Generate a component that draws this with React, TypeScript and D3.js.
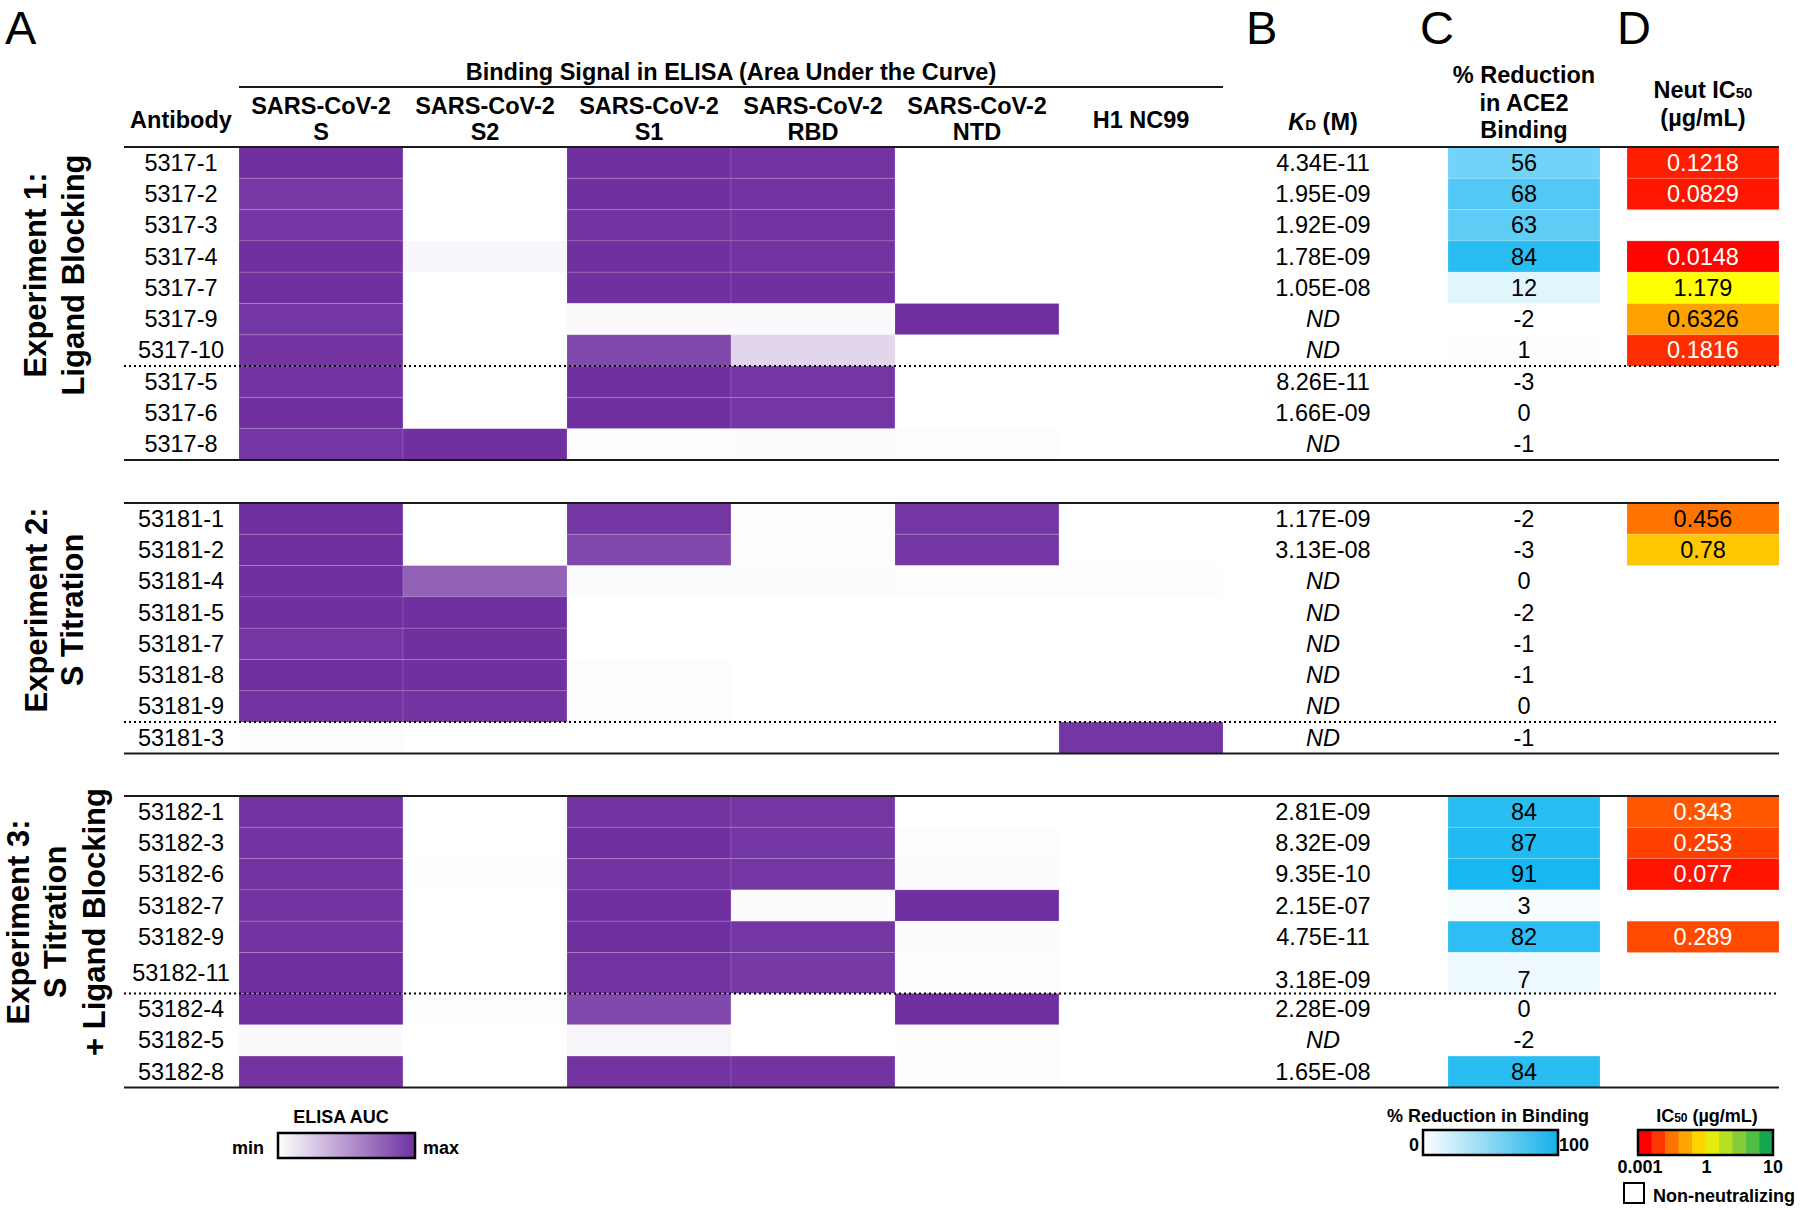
import * as d3 from "d3";

// ---- data ----
const heatColumns = [
  ["SARS-CoV-2", "S"],
  ["SARS-CoV-2", "S2"],
  ["SARS-CoV-2", "S1"],
  ["SARS-CoV-2", "RBD"],
  ["SARS-CoV-2", "NTD"],
  ["H1 NC99"],
];

const exp1Antibodies = ["5317-1", "5317-2", "5317-3", "5317-4", "5317-7", "5317-9", "5317-10", "5317-5", "5317-6", "5317-8"];
// ELISA AUC, scaled 0 (min) .. 1 (max), columns S, S2, S1, RBD, NTD, H1
const exp1Elisa = [
  [1.0, 0, 1.0, 0.98, 0, 0],
  [0.95, 0, 1.0, 0.98, 0, 0],
  [0.97, 0, 0.98, 0.98, 0, 0],
  [1.0, 0.04, 1.0, 0.98, 0, 0],
  [1.0, 0, 1.0, 1.0, 0, 0],
  [0.97, 0, 0.03, 0.03, 1.0, 0],
  [0.98, 0, 0.88, 0.2, 0, 0],
  [0.98, 0, 1.0, 0.97, 0, 0],
  [1.0, 0, 1.0, 0.97, 0, 0],
  [0.97, 1.0, 0.01, 0.02, 0.01, 0],
];
const exp1Kd = ["4.34E-11", "1.95E-09", "1.92E-09", "1.78E-09", "1.05E-08", "ND", "ND", "8.26E-11", "1.66E-09", "ND"];
const exp1Reduction = [56, 68, 63, 84, 12, -2, 1, -3, 0, -1];
const exp1Ic50 = [0.1218, 0.0829, null, 0.0148, 1.179, 0.6326, 0.1816, null, null, null];

const exp2Antibodies = ["53181-1", "53181-2", "53181-4", "53181-5", "53181-7", "53181-8", "53181-9", "53181-3"];
const exp2Elisa = [
  [1.0, 0, 0.97, 0.01, 0.97, 0],
  [1.0, 0, 0.88, 0.01, 0.97, 0],
  [1.0, 0.76, 0.02, 0.02, 0.01, 0.01],
  [1.0, 1.0, 0, 0, 0, 0],
  [0.97, 1.0, 0, 0, 0, 0],
  [1.0, 1.0, 0.01, 0, 0, 0],
  [0.98, 0.98, 0.01, 0, 0, 0],
  [0.01, 0, 0, 0, 0, 0.97],
];
const exp2Kd = ["1.17E-09", "3.13E-08", "ND", "ND", "ND", "ND", "ND", "ND"];
const exp2Reduction = [-2, -3, 0, -2, -1, -1, 0, -1];
const exp2Ic50 = [0.456, 0.78, null, null, null, null, null, null];

const exp3Antibodies = ["53182-1", "53182-3", "53182-6", "53182-7", "53182-9", "53182-11", "53182-4", "53182-5", "53182-8"];
const exp3Elisa = [
  [0.98, 0, 0.98, 0.97, 0, 0],
  [0.98, 0, 1.0, 0.97, 0.01, 0],
  [0.98, 0.01, 0.98, 0.97, 0.02, 0],
  [0.98, 0, 1.0, 0.02, 1.0, 0],
  [0.98, 0, 1.0, 0.97, 0.02, 0],
  [1.0, 0, 0.98, 0.95, 0.01, 0],
  [1.0, 0.01, 0.88, 0, 1.0, 0],
  [0.03, 0, 0.05, 0, 0.01, 0],
  [0.98, 0, 0.98, 0.98, 0.01, 0],
];
const exp3Kd = ["2.81E-09", "8.32E-09", "9.35E-10", "2.15E-07", "4.75E-11", "3.18E-09", "2.28E-09", "ND", "1.65E-08"];
const exp3Reduction = [84, 87, 91, 3, 82, 7, 0, -2, 84];
const exp3Ic50 = [0.343, 0.253, 0.077, null, 0.289, null, null, null, null];

const experiments = [
  { title: ["Experiment 1:", "Ligand Blocking"], antibodies: exp1Antibodies, elisa: exp1Elisa, kd: exp1Kd, reduction: exp1Reduction, ic50: exp1Ic50, splitAfter: 7 },
  { title: ["Experiment 2:", "S Titration"], antibodies: exp2Antibodies, elisa: exp2Elisa, kd: exp2Kd, reduction: exp2Reduction, ic50: exp2Ic50, splitAfter: 7 },
  { title: ["Experiment 3:", "S Titration", "+ Ligand Blocking"], antibodies: exp3Antibodies, elisa: exp3Elisa, kd: exp3Kd, reduction: exp3Reduction, ic50: exp3Ic50, splitAfter: 6 },
];

const ic50LegendColors = ["#ff0000", "#ff3800", "#ff7400", "#ffa400", "#ffd400", "#e4ec10", "#b6e024", "#86cc38", "#4fbf44", "#16a650"];
const ic50LegendTicks = ["0.001", "1", "10"];

// ---- layout ----
const W = 1800;
const H = 1210;
const FONT = "'Liberation Sans', Arial, Helvetica, sans-serif";
const tableLeft = 124;
const tableRight = 1779;
const labelX = 181;
const kdX = 1323;
const redX = [1448, 1600];
const icX = [1627, 1779];
const rowH = 31.3;
const tallRowH = 41;
const tallRows = ["53182-11"];
const blockTops = [147, 503, 796];
const titleCenterY = [275, 610, 922];
const titleBaselines = [[46, 84], [47, 83], [29, 66, 105]];

const heatX = d3.scaleBand<number>().domain(d3.range(heatColumns.length)).range([239, 1223]);
const elisaColor = d3.scaleLinear<string>().domain([0, 1]).range(["#ffffff", "#7030a0"]).clamp(true);
const reductionColor = d3.scaleLinear<string>().domain([0, 100]).range(["#ffffff", "#00b0f0"]).clamp(true);
const ic50Color = d3.scaleLinear<string>().domain([0, 1]).range(["#ff0000", "#ffff00"]).clamp(true);
const ic50Tick = d3.scalePoint<string>().domain(ic50LegendTicks).range([1640, 1773]);
const ic50Band = d3.scaleBand<number>().domain(d3.range(ic50LegendColors.length)).range([1638, 1773]);

const FS = 23.5;

function Block({ exp, top, idx }: any) {
  const heights = exp.antibodies.map((a: string) => (tallRows.includes(a) ? tallRowH : rowH));
  const ys = [top];
  heights.forEach((h: number, i: number) => ys.push(ys[i] + h));
  const bottom = ys[ys.length - 1];
  const splitY = ys[exp.splitAfter];
  return (
    <g>
      {exp.antibodies.map((ab: string, i: number) => {
        const y0 = ys[i];
        const h = heights[i];
        const tall = h > rowH;
        const midBase = y0 + h / 2 + 8;
        const valBase = tall ? y0 + h - 6 : midBase;
        const r = exp.reduction[i];
        const ic = exp.ic50[i];
        return (
          <g key={ab}>
            {exp.elisa[i].map((v: number, j: number) => (
              <rect key={j} x={heatX(j)} y={y0} width={heatX.bandwidth()} height={h}
                fill={elisaColor(v)} stroke="#ffffff" strokeOpacity={0.12} strokeWidth={1} />
            ))}
            <text x={labelX} y={midBase} textAnchor="middle" fontSize={FS}>{ab}</text>
            <text x={kdX} y={valBase} textAnchor="middle" fontSize={FS}
              fontStyle={exp.kd[i] === "ND" ? "italic" : "normal"}>{exp.kd[i]}</text>
            {r > 0 && (
              <rect x={redX[0]} y={y0} width={redX[1] - redX[0]} height={h}
                fill={reductionColor(r)} stroke="#ffffff" strokeOpacity={0.15} strokeWidth={1} />
            )}
            <text x={(redX[0] + redX[1]) / 2} y={valBase} textAnchor="middle" fontSize={FS}>{r}</text>
            {ic != null && (
              <g>
                <rect x={icX[0]} y={y0} width={icX[1] - icX[0]} height={h}
                  fill={ic50Color(ic)} stroke="#ffffff" strokeOpacity={0.15} strokeWidth={1} />
                <text x={(icX[0] + icX[1]) / 2} y={midBase} textAnchor="middle" fontSize={FS}
                  fill={ic < 0.4 ? "#ffffff" : "#000000"}>{ic}</text>
              </g>
            )}
          </g>
        );
      })}
      <line x1={tableLeft} x2={tableRight} y1={top} y2={top} stroke="#1a1a1a" strokeWidth={2} />
      <line x1={tableLeft} x2={tableRight} y1={bottom} y2={bottom} stroke="#1a1a1a" strokeWidth={2} />
      <line x1={tableLeft} x2={tableRight} y1={splitY} y2={splitY} stroke="#000" strokeWidth={2} strokeDasharray="2 3" />
      {exp.title.map((t: string, k: number) => (
        <text key={k} transform={`translate(${titleBaselines[idx][k]},${titleCenterY[idx]}) rotate(-90)`}
          textAnchor="middle" fontSize={31} fontWeight="bold">{t}</text>
      ))}
    </g>
  );
}

export default function App() {
  return (
    <svg width={W} height={H} viewBox={`0 0 ${W} ${H}`}
      style={{ position: "absolute", left: 0, top: 0, background: "#fff" }} fontFamily={FONT}>
      <defs>
        <linearGradient id="gElisa" x1="0" x2="1" y1="0" y2="0">
          <stop offset="0" stopColor="#ffffff" />
          <stop offset="1" stopColor="#7030a0" />
        </linearGradient>
        <linearGradient id="gRed" x1="0" x2="1" y1="0" y2="0">
          <stop offset="0" stopColor="#ffffff" />
          <stop offset="1" stopColor="#14b0ea" />
        </linearGradient>
      </defs>
      <rect width={W} height={H} fill="#fff" />

      {/* panel letters */}
      <g fontSize={47}>
        <text x={5} y={44}>A</text>
        <text x={1246} y={44}>B</text>
        <text x={1420} y={44}>C</text>
        <text x={1617} y={44}>D</text>
      </g>

      {/* headers */}
      <text x={(239 + 1223) / 2} y={80} textAnchor="middle" fontSize={FS} fontWeight="bold">
        Binding Signal in ELISA (Area Under the Curve)
      </text>
      <line x1={239} x2={1223} y1={87} y2={87} stroke="#1a1a1a" strokeWidth={2} />
      <text x={labelX} y={128} textAnchor="middle" fontSize={FS} fontWeight="bold">Antibody</text>
      {heatColumns.map((c, j) => {
        const cx = (heatX(j) as number) + heatX.bandwidth() / 2;
        return c.length === 2 ? (
          <g key={j}>
            <text x={cx} y={114} textAnchor="middle" fontSize={FS} fontWeight="bold">{c[0]}</text>
            <text x={cx} y={140} textAnchor="middle" fontSize={FS} fontWeight="bold">{c[1]}</text>
          </g>
        ) : (
          <text key={j} x={cx} y={128} textAnchor="middle" fontSize={FS} fontWeight="bold">{c[0]}</text>
        );
      })}
      <text x={kdX} y={130} textAnchor="middle" fontSize={FS} fontWeight="bold">
        <tspan fontStyle="italic">K</tspan><tspan fontSize={15}>D</tspan> (M)
      </text>
      <g fontSize={FS} fontWeight="bold" textAnchor="middle">
        <text x={(redX[0] + redX[1]) / 2} y={83}>% Reduction</text>
        <text x={(redX[0] + redX[1]) / 2} y={111}>in ACE2</text>
        <text x={(redX[0] + redX[1]) / 2} y={138}>Binding</text>
        <text x={(icX[0] + icX[1]) / 2} y={98}>Neut IC<tspan fontSize={15}>50</tspan></text>
        <text x={(icX[0] + icX[1]) / 2} y={126}>(µg/mL)</text>
      </g>

      {experiments.map((exp, i) => (
        <Block key={i} exp={exp} top={blockTops[i]} idx={i} />
      ))}

      {/* legends */}
      <g fontSize={18} fontWeight="bold">
        <text x={341} y={1123} textAnchor="middle">ELISA AUC</text>
        <rect x={278} y={1133} width={137} height={25} fill="url(#gElisa)" stroke="#000" strokeWidth={2.5} />
        <text x={264} y={1154} textAnchor="end">min</text>
        <text x={423} y={1154}>max</text>

        <text x={1488} y={1122} textAnchor="middle">% Reduction in Binding</text>
        <rect x={1423} y={1130} width={135} height={25} fill="url(#gRed)" stroke="#000" strokeWidth={2.5} />
        <text x={1419} y={1151} textAnchor="end">0</text>
        <text x={1559} y={1151}>100</text>

        <text x={1707} y={1122} textAnchor="middle">IC<tspan fontSize={12}>50</tspan> (µg/mL)</text>
        {ic50LegendColors.map((c, k) => (
          <rect key={k} x={ic50Band(k)} y={1130} width={ic50Band.bandwidth() + 0.5} height={25} fill={c} />
        ))}
        <rect x={1638} y={1130} width={135} height={25} fill="none" stroke="#000" strokeWidth={2.5} />
        {ic50LegendTicks.map((t) => (
          <text key={t} x={ic50Tick(t)} y={1173} textAnchor="middle">{t}</text>
        ))}
        <rect x={1624} y={1183} width={20} height={20} fill="#fff" stroke="#000" strokeWidth={2} />
        <text x={1653} y={1202}>Non-neutralizing</text>
      </g>
    </svg>
  );
}
